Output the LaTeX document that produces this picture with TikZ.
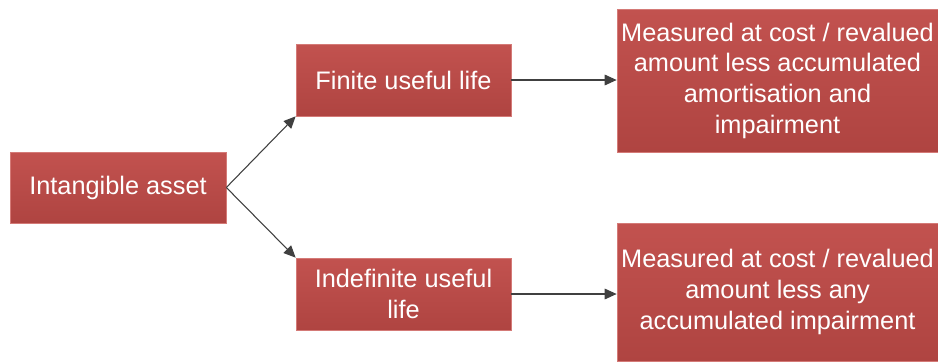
\documentclass[tikz,border=0pt]{standalone}
\usepackage{fontspec}
\setmainfont{Liberation Sans}
\usetikzlibrary{arrows.meta}
\definecolor{boxtop}{HTML}{C2524F}
\definecolor{boxbot}{HTML}{AF4441}
\definecolor{boxedge}{HTML}{D47A77}
\definecolor{linkgray}{HTML}{404040}
\tikzset{
  redbox/.style={rectangle, draw=boxedge, line width=0.5pt, top color=boxtop, bottom color=boxbot,
    text=white, align=center, inner sep=0pt, font=\fontsize{19}{23}\selectfont},
  link/.style={draw=linkgray, line width=0.8pt, -{Triangle[length=9pt,width=8pt]}}
}
\begin{document}
\begin{tikzpicture}[x=0.75pt,y=-0.75pt]
\useasboundingbox (0,0) rectangle (938,361);
\node[redbox, minimum width=216*0.75pt, minimum height=71*0.75pt] (asset) at (118,187.5) {Intangible asset};
\node[redbox, minimum width=215*0.75pt, minimum height=72*0.75pt] (finite) at (403.5,80) {Finite useful life};
\node[redbox, minimum width=215*0.75pt, minimum height=72*0.75pt] (indef) at (403.5,294) {Indefinite useful\\life};
\node[redbox, minimum width=321*0.75pt, minimum height=143*0.75pt] (costa) at (777.5,80.5) {Measured at cost / revalued\\amount less accumulated\\amortisation and\\impairment};
\node[redbox, minimum width=321*0.75pt, minimum height=138*0.75pt] (costb) at (777.5,292) {Measured at cost / revalued\\amount less any\\accumulated impairment};
\draw[link] (asset.east) -- (finite.south west);
\draw[link] (asset.east) -- (indef.north west);
\draw[link] (finite.east) -- (finite.east -| costa.west);
\draw[link] (indef.east) -- (indef.east -| costb.west);
\end{tikzpicture}
\end{document}
